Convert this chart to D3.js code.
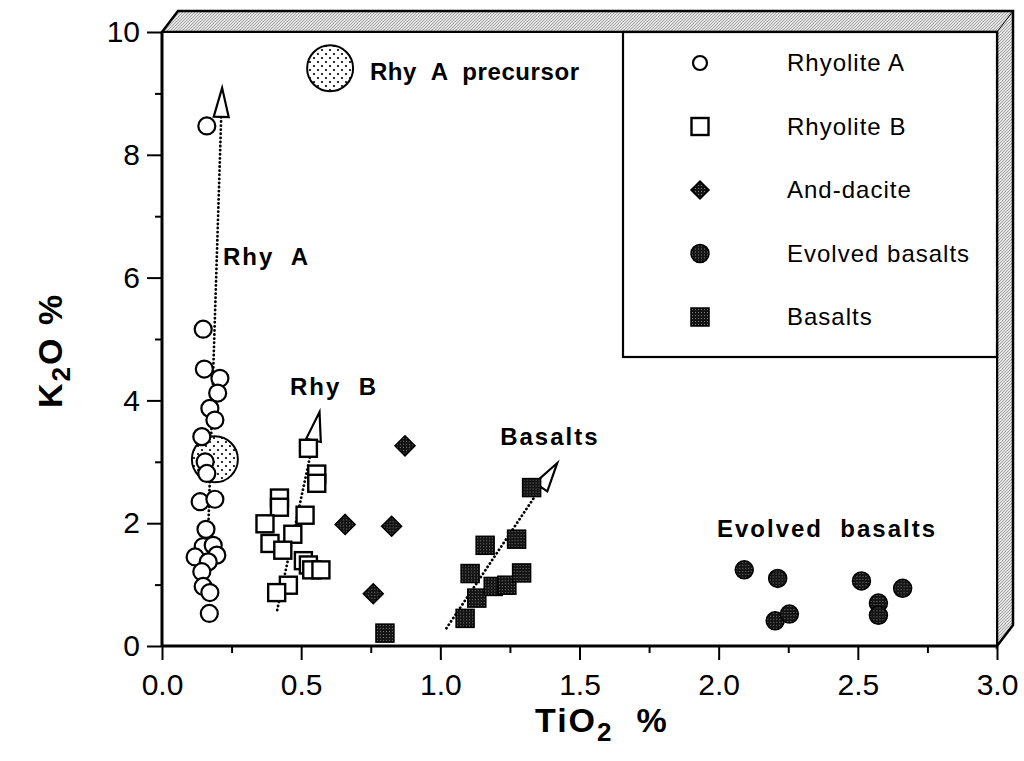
<!DOCTYPE html>
<html>
<head>
<meta charset="utf-8">
<script src="https://cdn.jsdelivr.net/npm/d3@7"></script>
<style>
  html, body { margin: 0; padding: 0; background: #fff; }
  svg { display: block; }
  text { font-family: "Liberation Sans", Arial, Helvetica, sans-serif; fill: #000; }
</style>
</head>
<body>
<svg id="chart" width="1024" height="761"></svg>
<script>
// ---- data: TiO2 % (x) vs K2O % (y) ----
const rhyoliteA = [
  [0.161, 8.47], [0.148, 5.16], [0.152, 4.51], [0.208, 4.36], [0.200, 4.12],
  [0.172, 3.87], [0.190, 3.68], [0.143, 3.41], [0.155, 3.00], [0.161, 2.81],
  [0.137, 2.35], [0.190, 2.39], [0.158, 1.90], [0.148, 1.62], [0.184, 1.64],
  [0.119, 1.45], [0.197, 1.48], [0.166, 1.37], [0.143, 1.21], [0.148, 0.97],
  [0.172, 0.87], [0.170, 0.53]
];
const rhyoliteB = [
  [0.526, 3.22], [0.556, 2.80], [0.556, 2.65], [0.422, 2.41], [0.422, 2.26],
  [0.514, 2.13], [0.370, 1.99], [0.470, 1.82], [0.388, 1.67], [0.434, 1.56],
  [0.508, 1.39], [0.526, 1.32], [0.538, 1.24], [0.571, 1.24], [0.454, 0.99],
  [0.412, 0.87]
];
const andDacite = [[0.873, 3.26], [0.658, 1.98], [0.825, 1.95], [0.759, 0.85]];
const evolvedBasalts = [
  [2.092, 1.24], [2.212, 1.10], [2.203, 0.41], [2.254, 0.52],
  [2.513, 1.06], [2.661, 0.94], [2.574, 0.70], [2.574, 0.50]
];
const basalts = [
  [0.801, 0.21], [1.089, 0.45], [1.131, 0.78], [1.107, 1.18], [1.161, 1.64],
  [1.190, 0.97], [1.239, 0.99], [1.292, 1.19], [1.274, 1.74], [1.328, 2.58]
];
// inferred Rhyolite A precursor composition
const precursor = [[0.190, 3.04]];

// trend arrows: [start, tip]
const trends = [
  { name: "Rhy A", from: [0.16, 1.0], to: [0.216, 9.09] },
  { name: "Rhy B", from: [0.414, 0.586], to: [0.566, 3.81] },
  { name: "Basalts", from: [1.022, 0.29], to: [1.42, 2.98] }
];

// field labels, anchored at their left baseline
const fieldLabels = [
  { text: "Rhy  A", at: [0.219, 6.2] },
  { text: "Rhy  B", at: [0.46, 4.09] },
  { text: "Basalts", at: [1.215, 3.27] },
  { text: "Evolved  basalts", at: [1.994, 1.775] }
];
const precursorKey = { symbol: [0.604, 9.41], text: "Rhy  A  precursor", at: [0.747, 9.22] };

const xTicks = [0, 0.5, 1.0, 1.5, 2.0, 2.5, 3.0];
const xMinor = [0.25, 0.75, 1.25, 1.75, 2.25, 2.75];
const yTicks = [0, 2, 4, 6, 8, 10];
const yMinor = [1, 3, 5, 7, 9];

const legendItems = ["Rhyolite A", "Rhyolite B", "And-dacite", "Evolved basalts", "Basalts"];

// ---- layout ----
const svg = d3.select("#chart");
const x = d3.scaleLinear().domain([0, 3]).range([162, 997]);
const y = d3.scaleLinear().domain([0, 10]).range([646, 32]);
const depth = { dx: 16, dy: -21 };

// ---- fill patterns ----
const defs = svg.append("defs");
const hatch = defs.append("pattern").attr("id", "hatch")
  .attr("patternUnits", "userSpaceOnUse").attr("width", 3).attr("height", 3);
hatch.append("rect").attr("width", 3).attr("height", 3).attr("fill", "#e0e0e0");
hatch.append("path").attr("d", "M0,3 L3,0").attr("stroke", "#9a9a9a").attr("stroke-width", 0.8);

const stipLight = defs.append("pattern").attr("id", "stipLight")
  .attr("patternUnits", "userSpaceOnUse").attr("width", 8).attr("height", 8);
stipLight.append("rect").attr("width", 8).attr("height", 8).attr("fill", "#fff");
stipLight.append("circle").attr("cx", 2).attr("cy", 2).attr("r", 1.1).attr("fill", "#000");
stipLight.append("circle").attr("cx", 6).attr("cy", 6).attr("r", 1.1).attr("fill", "#000");

const stipDark = defs.append("pattern").attr("id", "stipDark")
  .attr("patternUnits", "userSpaceOnUse").attr("width", 3).attr("height", 3);
stipDark.append("rect").attr("width", 3).attr("height", 3).attr("fill", "#141414");
stipDark.append("rect").attr("x", 1).attr("y", 1).attr("width", 1).attr("height", 1).attr("fill", "#7a7a7a");

// ---- 3D frame bands ----
const [x0, x1] = x.range();
const [yB, yT] = y.range();
svg.append("path")
  .attr("d", `M${x0},${yT} L${x0 + depth.dx},${yT + depth.dy} L${x1 + depth.dx},${yT + depth.dy} L${x1 + depth.dx},${yB + depth.dy} L${x1},${yB} L${x1},${yT} Z`)
  .attr("fill", "url(#hatch)").attr("stroke", "#000").attr("stroke-width", 2.5)
  .attr("stroke-linejoin", "miter");
svg.append("line")
  .attr("x1", x1).attr("y1", yT).attr("x2", x1 + depth.dx).attr("y2", yT + depth.dy)
  .attr("stroke", "#000").attr("stroke-width", 1);

// plot area
svg.append("rect").attr("x", x0).attr("y", yT).attr("width", x1 - x0).attr("height", yB - yT)
  .attr("fill", "#fff").attr("stroke", "#000").attr("stroke-width", 2);

// ---- axes ----
const xAxis = svg.append("g").attr("transform", `translate(0,${yB})`)
  .call(d3.axisBottom(x).tickValues(xTicks).tickSize(14).tickPadding(14).tickFormat(d3.format(".1f")));
const xAxisMinor = svg.append("g").attr("transform", `translate(0,${yB})`)
  .call(d3.axisBottom(x).tickValues(xMinor).tickSize(7).tickFormat(""));
const yAxis = svg.append("g").attr("transform", `translate(${x0},0)`)
  .call(d3.axisLeft(y).tickValues(yTicks).tickSize(15).tickPadding(7).tickFormat(d3.format("d")));
const yAxisMinor = svg.append("g").attr("transform", `translate(${x0},0)`)
  .call(d3.axisLeft(y).tickValues(yMinor).tickSize(7).tickFormat(""));
[xAxis, xAxisMinor, yAxis, yAxisMinor].forEach(g => {
  g.select(".domain").remove();
  g.selectAll(".tick line").attr("stroke", "#000").attr("stroke-width", 2);
  g.selectAll(".tick text").attr("font-size", 30)
    .attr("font-family", '"Liberation Sans", Arial, Helvetica, sans-serif').attr("fill", "#000");
});
// heavy axis lines
svg.append("line").attr("x1", x0).attr("x2", x1).attr("y1", yB).attr("y2", yB)
  .attr("stroke", "#000").attr("stroke-width", 3);
svg.append("line").attr("x1", x0).attr("x2", x0).attr("y1", yT).attr("y2", yB)
  .attr("stroke", "#000").attr("stroke-width", 3);

// ---- axis titles ----
const xTitle = svg.append("text").attr("x", 535).attr("y", 732)
  .attr("font-size", 34).attr("font-weight", "bold").attr("letter-spacing", 2)
  .attr("xml:space", "preserve");
xTitle.append("tspan").text("TiO");
xTitle.append("tspan").attr("font-size", 26).attr("dy", 9).text("2");
xTitle.append("tspan").attr("dy", -9).text("  %");

const yTitle = svg.append("text").attr("transform", "translate(62,408) rotate(-90)")
  .attr("font-size", 34).attr("font-weight", "bold").attr("letter-spacing", 2)
  .attr("xml:space", "preserve");
yTitle.append("tspan").text("K");
yTitle.append("tspan").attr("font-size", 26).attr("dy", 8).text("2");
yTitle.append("tspan").attr("dy", -8).text("O %");

// ---- trend lines with open arrow heads ----
const headLen = 29, headHalf = 7.5;
trends.forEach(t => {
  const sx = x(t.from[0]), sy = y(t.from[1]);
  const tx = x(t.to[0]), ty = y(t.to[1]);
  const len = Math.hypot(tx - sx, ty - sy);
  const ux = (tx - sx) / len, uy = (ty - sy) / len;
  const bx = tx - ux * headLen, by = ty - uy * headLen;
  svg.append("line").attr("x1", sx).attr("y1", sy).attr("x2", bx).attr("y2", by)
    .attr("stroke", "#000").attr("stroke-width", 2.8)
    .attr("stroke-dasharray", "0.1,4").attr("stroke-linecap", "round");
  const pts = [[tx, ty], [bx - uy * headHalf, by + ux * headHalf], [bx + uy * headHalf, by - ux * headHalf]];
  svg.append("path").attr("d", d3.line()(pts) + "Z")
    .attr("fill", "#fff").attr("stroke", "#000").attr("stroke-width", 2.2)
    .attr("stroke-linejoin", "miter");
});

// ---- markers ----
const sym = {
  circleOpen: (g, r) => g.append("circle").attr("r", r).attr("fill", "#fff").attr("stroke", "#000").attr("stroke-width", 2.2),
  squareOpen: (g, s) => g.append("rect").attr("x", -s / 2).attr("y", -s / 2).attr("width", s).attr("height", s)
    .attr("fill", "#fff").attr("stroke", "#000").attr("stroke-width", 2.4),
  diamond: (g, s) => g.append("path").attr("d", `M0,${-s} L${s},0 L0,${s} L${-s},0 Z`)
    .attr("fill", "url(#stipDark)").attr("stroke", "#000").attr("stroke-width", 1.5),
  circleFilled: (g, r) => g.append("circle").attr("r", r).attr("fill", "url(#stipDark)").attr("stroke", "#000").attr("stroke-width", 1.5),
  squareFilled: (g, s) => g.append("rect").attr("x", -s / 2).attr("y", -s / 2).attr("width", s).attr("height", s)
    .attr("fill", "url(#stipDark)").attr("stroke", "#000").attr("stroke-width", 1.5)
};

function plotSeries(data, draw, size) {
  svg.append("g").selectAll("g").data(data).join("g")
    .attr("transform", d => `translate(${x(d[0])},${y(d[1])})`)
    .each(function () { draw(d3.select(this), size); });
}

// precursor field drawn beneath the Rhyolite A points
svg.append("g").selectAll("circle").data(precursor).join("circle")
  .attr("cx", d => x(d[0])).attr("cy", d => y(d[1])).attr("r", 23)
  .attr("fill", "url(#stipLight)").attr("stroke", "#000").attr("stroke-width", 2);

plotSeries(rhyoliteA, sym.circleOpen, 8.5);
plotSeries(rhyoliteB, sym.squareOpen, 17);
plotSeries(andDacite, sym.diamond, 10);
plotSeries(basalts, sym.squareFilled, 18);
plotSeries(evolvedBasalts, sym.circleFilled, 9);

// ---- field labels ----
svg.append("g").selectAll("text").data(fieldLabels).join("text")
  .attr("x", d => x(d.at[0])).attr("y", d => y(d.at[1]))
  .attr("font-size", 24).attr("font-weight", "bold").attr("letter-spacing", 2)
  .attr("xml:space", "preserve").text(d => d.text);

svg.append("circle").attr("cx", x(precursorKey.symbol[0])).attr("cy", y(precursorKey.symbol[1])).attr("r", 23)
  .attr("fill", "url(#stipLight)").attr("stroke", "#000").attr("stroke-width", 2);
svg.append("text").attr("x", x(precursorKey.at[0])).attr("y", y(precursorKey.at[1]))
  .attr("font-size", 24).attr("font-weight", "bold").attr("letter-spacing", 0.6)
  .attr("xml:space", "preserve").text(precursorKey.text);

// ---- legend ----
const legend = svg.append("g");
legend.append("rect").attr("x", 623).attr("y", yT).attr("width", x1 - 623).attr("height", 357 - yT)
  .attr("fill", "#fff").attr("stroke", "#000").attr("stroke-width", 2.2);
const legendDraw = [
  g => sym.circleOpen(g, 7),
  g => sym.squareOpen(g, 17),
  g => sym.diamond(g, 9),
  g => sym.circleFilled(g, 9),
  g => sym.squareFilled(g, 18)
];
const rowY = d3.scalePoint().domain(legendItems).range([63, 317]);
legendItems.forEach((name, i) => {
  const g = legend.append("g").attr("transform", `translate(700,${rowY(name)})`);
  legendDraw[i](g);
  legend.append("text").attr("x", 787).attr("y", rowY(name)).attr("dy", "0.35em")
    .attr("font-size", 24).attr("letter-spacing", 1).text(name);
});
</script>
</body>
</html>
